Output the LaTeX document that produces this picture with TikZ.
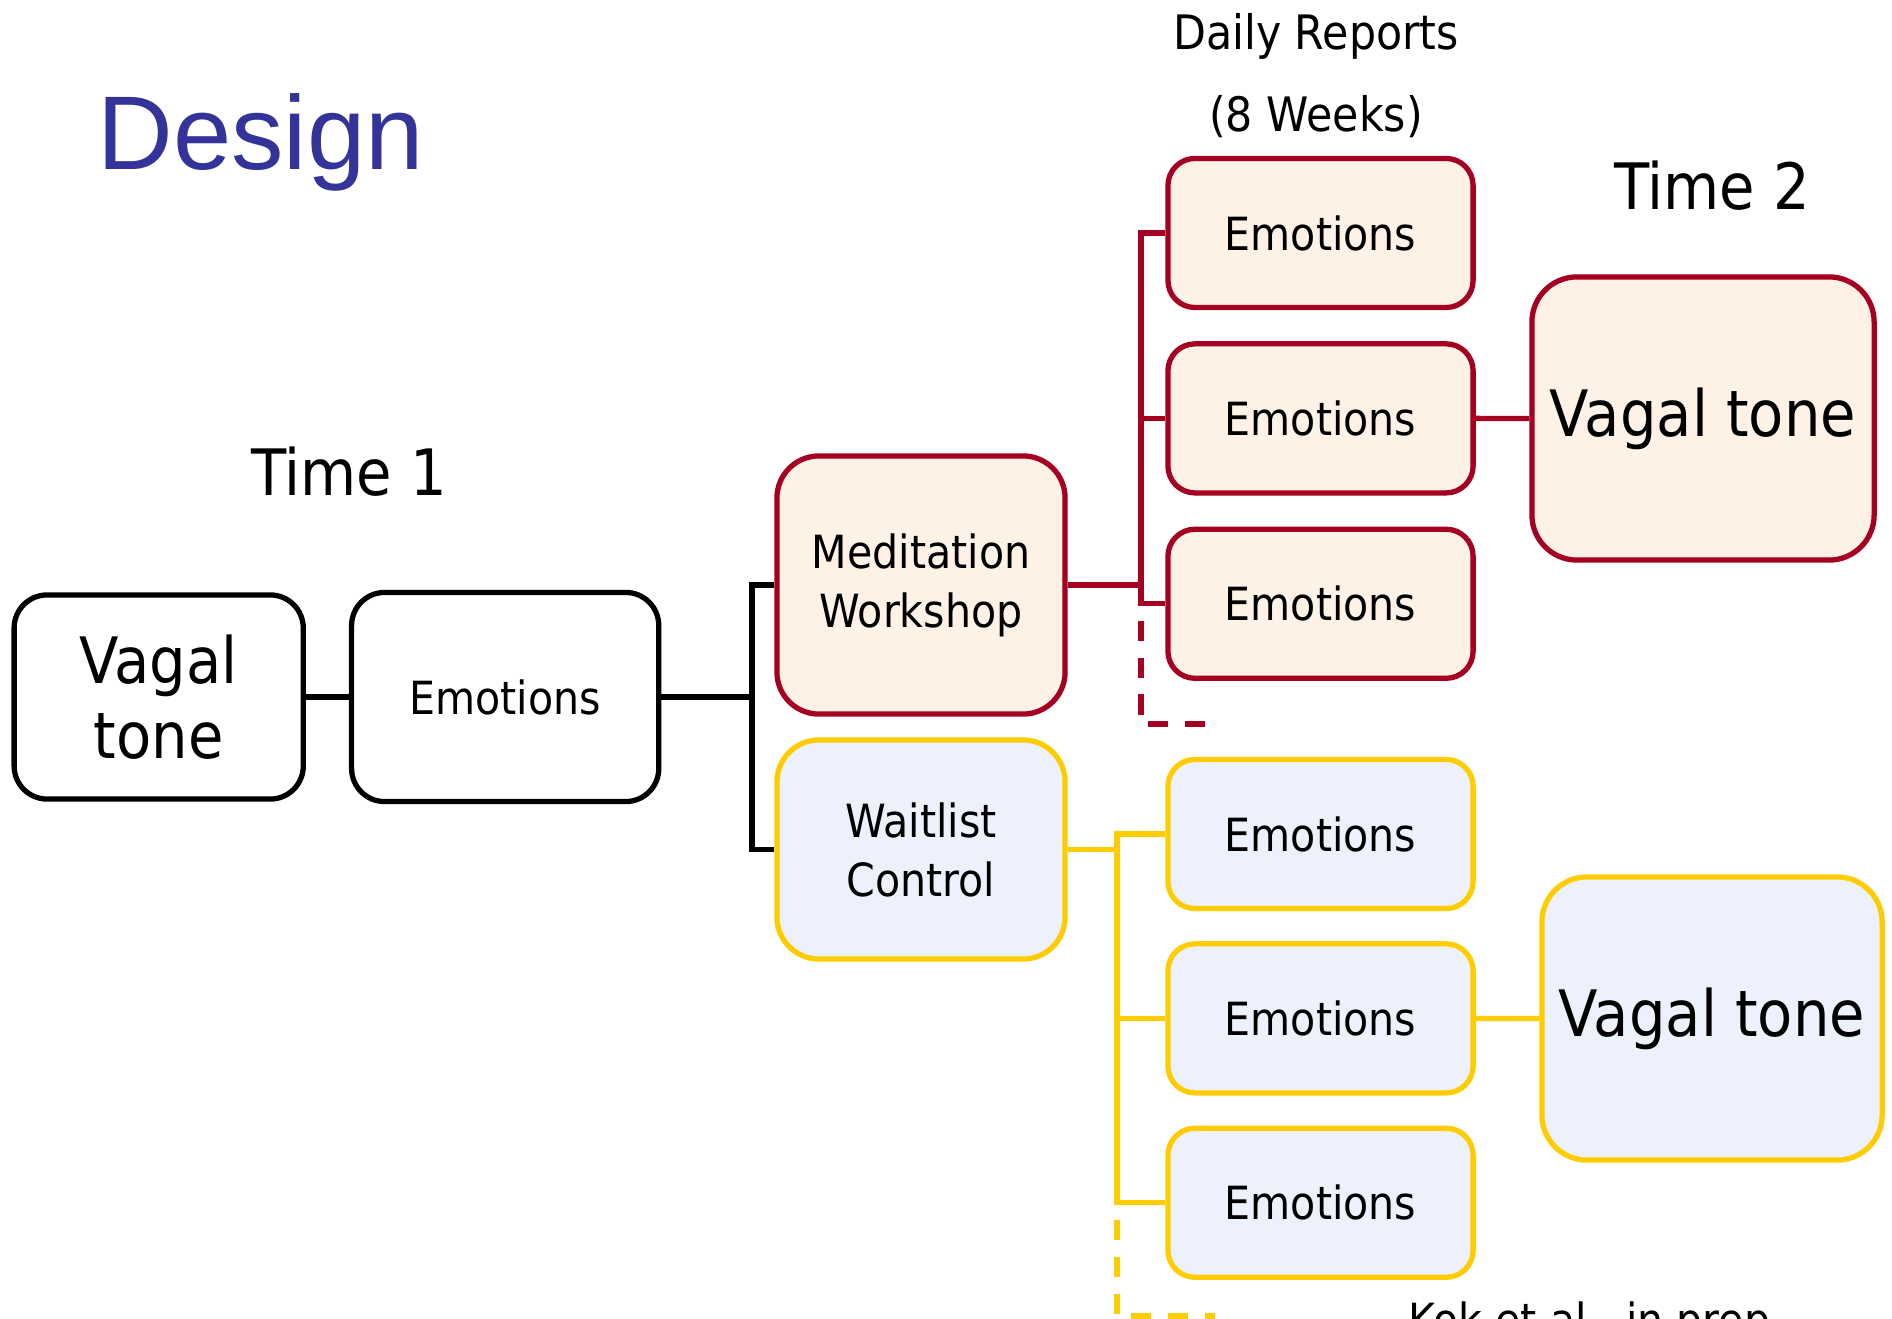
\documentclass[tikz,border=0pt]{standalone}
\usepackage{fontspec}
\setmainfont{DejaVu Sans}[FakeStretch=0.9]
\newfontfamily\titlefont{Liberation Sans}
\usepackage{tikz}
\usetikzlibrary{positioning}

\definecolor{wred}{RGB}{165,0,33}
\definecolor{wyel}{RGB}{255,204,0}
\definecolor{wredfill}{RGB}{254,241,230}
\definecolor{wyelfill}{RGB}{236,241,252}
\definecolor{titleblue}{RGB}{51,51,153}

\tikzset{
  box/.style={draw, line width=1.5pt, align=center, inner sep=1pt},
  emo/.style={box, minimum width=3.05cm, minimum height=1.49cm, rounded corners=0.27cm,
    font=\fontsize{13}{16}\selectfont},
  arm/.style={box, minimum width=2.88cm, rounded corners=0.42cm, font=\fontsize{13}{16.8}\selectfont},
  big/.style={box, minimum width=3.42cm, minimum height=2.83cm, rounded corners=0.45cm,
    font=\fontsize{18.2}{21.3}\selectfont},
  wsgroup/.style={draw=wred, fill=wredfill},
  wlgroup/.style={draw=wyel, fill=wyelfill},
  heading/.style={inner sep=0pt, font=\fontsize{18.2}{21.3}\selectfont},
  trail/.style={dash pattern=on 5.7pt off 4.8pt, dash phase=5.7pt}
}

\begin{document}
\begin{tikzpicture}[x=0.01cm, y=-0.01cm, line width=1.5pt]
  \useasboundingbox (0,0) rectangle (1892,1319);
  \clip (0,0) rectangle (1892,1319);

  % titles
  \node[anchor=base west, inner sep=0pt, text=titleblue, font=\titlefont\fontsize{29.8}{32}\selectfont] (title) at (95,170) {Design};
  \node[heading, anchor=base] (time1) at (349,495) {Time 1};
  \node[heading, anchor=base] (time2) at (1712,210) {Time 2};
  \node[anchor=base, inner sep=0pt, font=\fontsize{13.5}{16}\selectfont] (daily) at (1316,50) {Daily Reports};
  \node[anchor=base, inner sep=0pt, font=\fontsize{13.5}{16}\selectfont] (weeks) at (1316,132) {(8 Weeks)};

  % time 1
  \node[box, minimum width=2.89cm, minimum height=2.04cm, rounded corners=0.33cm,
    font=\fontsize{18.2}{21.3}\selectfont] (vt1) at (158.7,697) {Vagal\\tone};
  \node[box, minimum width=3.07cm, minimum height=2.09cm, rounded corners=0.33cm,
    font=\fontsize{13}{16}\selectfont, right=0.43cm of vt1] (emo0) {Emotions};

  % groups
  \node[arm, wsgroup, minimum height=2.58cm] (med) at (921,585) {Meditation\\Workshop};
  \node[arm, wlgroup, minimum height=2.19cm] (wait) at (921,849.5) {Waitlist\\Control};

  % daily reports
  \node[emo, wsgroup] (r1) at (1320.5,233) {Emotions};
  \node[emo, wsgroup, below=0.31cm of r1] (r2) {Emotions};
  \node[emo, wsgroup, below=0.31cm of r2] (r3) {Emotions};
  \node[emo, wlgroup] (y1) at (1320.5,834) {Emotions};
  \node[emo, wlgroup, below=0.30cm of y1] (y2) {Emotions};
  \node[emo, wlgroup, below=0.30cm of y2] (y3) {Emotions};

  % time 2
  \node[big, wsgroup] (vt2) at (1703,418.5) {Vagal tone};
  \node[big, wlgroup, minimum width=3.40cm] (vt3) at (1712,1018.5) {Vagal tone};

  \node[anchor=base west, inner sep=0pt, font=\fontsize{13}{16}\selectfont] (cite) at (1406,1336) {Kok et al., in prep.};

  % connectors
  \coordinate (split) at (752,697);
  \draw (vt1.east) -- (emo0.west);
  \draw (emo0.east) -- (split);
  \draw (med.west) -| (split) |- (wait.west);

  \coordinate (rj) at (1141,585);
  \coordinate (rend) at (1210,724);
  \draw[wred] (med.east) -- (rj);
  \draw[wred] (r1.west) -| (rj) |- (r3.west);
  \draw[wred] (r2.west) -- (r2.west -| rj);
  \draw[wred] (r2.east) -- (vt2.west);
  \draw[wred, trail] (r3.west -| rj) |- (rend);

  \coordinate (yj) at (1117,849.5);
  \coordinate (yend) at (1215,1316);
  \draw[wyel] (wait.east) -- (yj);
  \draw[wyel] (y1.west) -| (yj) |- (y3.west);
  \draw[wyel] (y2.west) -- (y2.west -| yj);
  \draw[wyel] (y2.east) -- (vt3.west);
  \draw[wyel, trail] (y3.west -| yj) |- (yend);
\end{tikzpicture}
\end{document}
